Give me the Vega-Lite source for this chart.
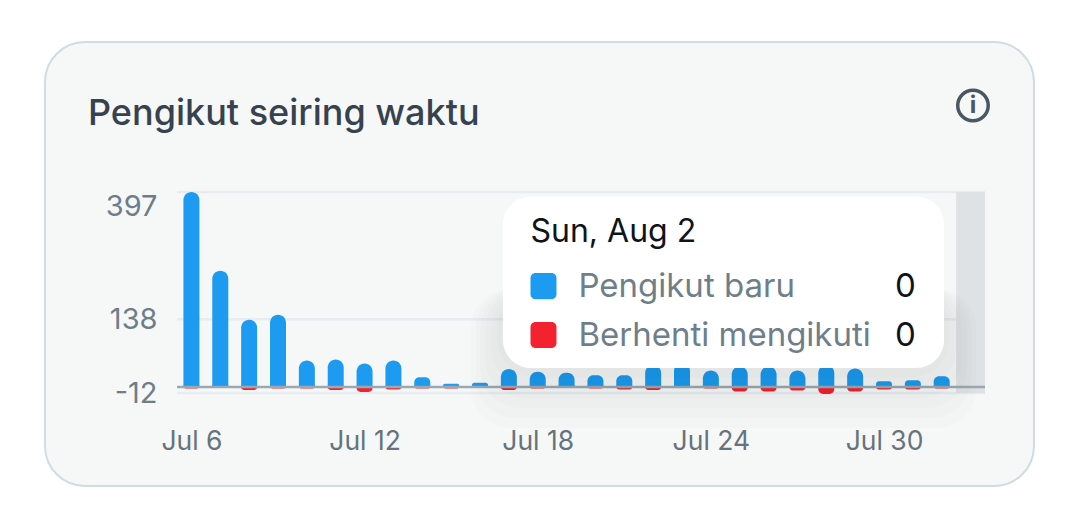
{
"$schema":"https://vega.github.io/schema/vega-lite/v6.json",
"width":989,"height":444,
"autosize":{"type":"none"},
"padding":{"left":45,"top":42,"right":46,"bottom":29},
"background":"#ffffff",
"view":{"fill":"#f6f8f8","stroke":"#cfdce3","strokeWidth":2,"cornerRadius":40},
"config":{"font":"Inter"},
"title":{"text":"Pengikut seiring waktu","anchor":"start","frame":"group","font":"Inter","fontSize":36,"fontWeight":500,"color":"#36424f","baseline":"middle","dx":43,"offset":-108,"orient":"top"},
"datasets":{
"bars":[
{"date":"2020-07-06T00:00:00","series":"Pengikut baru","value":397},{"date":"2020-07-06T00:00:00","series":"Berhenti mengikuti","value":-3},
{"date":"2020-07-07T00:00:00","series":"Pengikut baru","value":237},{"date":"2020-07-07T00:00:00","series":"Berhenti mengikuti","value":-1},
{"date":"2020-07-08T00:00:00","series":"Pengikut baru","value":137},{"date":"2020-07-08T00:00:00","series":"Berhenti mengikuti","value":-6},
{"date":"2020-07-09T00:00:00","series":"Pengikut baru","value":147},{"date":"2020-07-09T00:00:00","series":"Berhenti mengikuti","value":-3},
{"date":"2020-07-10T00:00:00","series":"Pengikut baru","value":54},{"date":"2020-07-10T00:00:00","series":"Berhenti mengikuti","value":-3},
{"date":"2020-07-11T00:00:00","series":"Pengikut baru","value":56},{"date":"2020-07-11T00:00:00","series":"Berhenti mengikuti","value":-6},
{"date":"2020-07-12T00:00:00","series":"Pengikut baru","value":48},{"date":"2020-07-12T00:00:00","series":"Berhenti mengikuti","value":-10},
{"date":"2020-07-13T00:00:00","series":"Pengikut baru","value":54},{"date":"2020-07-13T00:00:00","series":"Berhenti mengikuti","value":-5},
{"date":"2020-07-14T00:00:00","series":"Pengikut baru","value":20},{"date":"2020-07-14T00:00:00","series":"Berhenti mengikuti","value":-3},
{"date":"2020-07-15T00:00:00","series":"Pengikut baru","value":7},{"date":"2020-07-15T00:00:00","series":"Berhenti mengikuti","value":-3},
{"date":"2020-07-16T00:00:00","series":"Pengikut baru","value":9},{"date":"2020-07-16T00:00:00","series":"Berhenti mengikuti","value":-1},
{"date":"2020-07-17T00:00:00","series":"Pengikut baru","value":37},{"date":"2020-07-17T00:00:00","series":"Berhenti mengikuti","value":-6},
{"date":"2020-07-18T00:00:00","series":"Pengikut baru","value":31},{"date":"2020-07-18T00:00:00","series":"Berhenti mengikuti","value":-3},
{"date":"2020-07-19T00:00:00","series":"Pengikut baru","value":29},{"date":"2020-07-19T00:00:00","series":"Berhenti mengikuti","value":-2},
{"date":"2020-07-20T00:00:00","series":"Pengikut baru","value":24},{"date":"2020-07-20T00:00:00","series":"Berhenti mengikuti","value":-3},
{"date":"2020-07-21T00:00:00","series":"Pengikut baru","value":24},{"date":"2020-07-21T00:00:00","series":"Berhenti mengikuti","value":-5},
{"date":"2020-07-22T00:00:00","series":"Pengikut baru","value":45},{"date":"2020-07-22T00:00:00","series":"Berhenti mengikuti","value":-6},
{"date":"2020-07-23T00:00:00","series":"Pengikut baru","value":50},{"date":"2020-07-23T00:00:00","series":"Berhenti mengikuti","value":-1},
{"date":"2020-07-24T00:00:00","series":"Pengikut baru","value":34},{"date":"2020-07-24T00:00:00","series":"Berhenti mengikuti","value":-3},
{"date":"2020-07-25T00:00:00","series":"Pengikut baru","value":42},{"date":"2020-07-25T00:00:00","series":"Berhenti mengikuti","value":-9},
{"date":"2020-07-26T00:00:00","series":"Pengikut baru","value":42},{"date":"2020-07-26T00:00:00","series":"Berhenti mengikuti","value":-9},
{"date":"2020-07-27T00:00:00","series":"Pengikut baru","value":34},{"date":"2020-07-27T00:00:00","series":"Berhenti mengikuti","value":-7},
{"date":"2020-07-28T00:00:00","series":"Pengikut baru","value":45},{"date":"2020-07-28T00:00:00","series":"Berhenti mengikuti","value":-14},
{"date":"2020-07-29T00:00:00","series":"Pengikut baru","value":38},{"date":"2020-07-29T00:00:00","series":"Berhenti mengikuti","value":-9},
{"date":"2020-07-30T00:00:00","series":"Pengikut baru","value":12},{"date":"2020-07-30T00:00:00","series":"Berhenti mengikuti","value":-5},
{"date":"2020-07-31T00:00:00","series":"Pengikut baru","value":14},{"date":"2020-07-31T00:00:00","series":"Berhenti mengikuti","value":-5},
{"date":"2020-08-01T00:00:00","series":"Pengikut baru","value":22},{"date":"2020-08-01T00:00:00","series":"Berhenti mengikuti","value":-3},
{"date":"2020-08-02T00:00:00","series":"Pengikut baru","value":0},{"date":"2020-08-02T00:00:00","series":"Berhenti mengikuti","value":0}
],
"grid":[{"start":"2020-07-05T12:00:00","end":"2020-08-02T12:00:00","value":397},{"start":"2020-07-05T12:00:00","end":"2020-08-02T12:00:00","value":138},{"start":"2020-07-05T12:00:00","end":"2020-08-02T12:00:00","value":-12}],
"shadow":[
{"start":"2020-07-15T16:08:00","end":"2020-08-02T04:55:00","top":200,"bottom":-83},
{"start":"2020-07-15T20:08:00","end":"2020-08-02T00:55:00","top":200,"bottom":-62.8},
{"start":"2020-07-16T00:08:00","end":"2020-08-01T20:55:00","top":200,"bottom":-42.4},
{"start":"2020-07-16T04:08:00","end":"2020-08-01T16:55:00","top":200,"bottom":-22},
{"start":"2020-07-16T09:08:00","end":"2020-08-01T11:55:00","top":200,"bottom":-1.7},
{"start":"2020-07-16T14:08:00","end":"2020-08-01T06:55:00","top":200,"bottom":18.6}
]
},
"layer":[
{"data":{"name":"grid"},"mark":{"type":"rule","color":"#e7ecef","strokeWidth":2.5},
 "encoding":{
  "x":{"field":"start","type":"temporal","title":null,"scale":{"domain":["2020-07-05T12:00:00","2020-08-02T12:00:00"],"range":[132,940],"padding":0},
   "axis":{"values":["2020-07-06T00:00:00","2020-07-12T00:00:00","2020-07-18T00:00:00","2020-07-24T00:00:00","2020-07-30T00:00:00"],"format":"%b %-d","domain":false,"ticks":false,"grid":false,"labelFont":"Inter","labelFontSize":26.5,"labelColor":"#66737d","labelBaseline":"middle","labelPadding":0,"offset":-45,"labelOverlap":false,"labelFlush":false}},
  "x2":{"field":"end"},
  "y":{"field":"value","type":"quantitative","title":null,"scale":{"domain":[-12,397],"range":[351,150],"nice":false,"zero":false},
   "axis":{"values":[397,138,-12],"labelExpr":"'' + datum.value","domain":false,"ticks":false,"grid":false,"labelFont":"Inter","labelFontSize":29,"labelColor":"#6d7d8a","labelBaseline":{"expr":"datum.value==397?'top':'middle'"},"labelPadding":0,"offset":-112,"labelOverlap":false,"labelFlush":false}}
 }},
{"data":{"values":[{"start":"2020-08-01T12:00:00","end":"2020-08-02T12:00:00","top":397,"bottom":-12}]},"mark":{"type":"rect","color":"#dfe2e4"},
 "encoding":{"x":{"field":"start","type":"temporal"},"x2":{"field":"end"},"y":{"field":"top","type":"quantitative"},"y2":{"field":"bottom"}}},
{"data":{"name":"bars"},"transform":[{"filter":"datum.series=='Berhenti mengikuti' && datum.value<0"}],"mark":{"type":"bar","width":16,"cornerRadius":8},
 "encoding":{"x":{"field":"date","type":"temporal"},"y":{"field":"value","type":"quantitative","stack":null},"y2":{"datum":6},
  "color":{"field":"series","type":"nominal","legend":null,"scale":{"domain":["Pengikut baru","Berhenti mengikuti"],"range":["#1d9bf0","#f4212e"]}}}},
{"data":{"name":"bars"},"transform":[{"filter":"datum.series=='Pengikut baru'"}],"mark":{"type":"bar","width":16,"cornerRadiusEnd":8},
 "encoding":{"x":{"field":"date","type":"temporal"},"y":{"field":"value","type":"quantitative","stack":null},
  "color":{"field":"series","type":"nominal","legend":null}}},
{"data":{"values":[{"start":"2020-07-05T12:00:00","end":"2020-08-02T12:00:00","value":0}]},"mark":{"type":"rule","color":"#9ba8b2","strokeWidth":2.5},
 "encoding":{"x":{"field":"start","type":"temporal"},"x2":{"field":"end"},"y":{"field":"value","type":"quantitative"}}},
{"data":{"name":"shadow"},"mark":{"type":"rect","color":"#000000","opacity":0.011,"cornerRadius":40},
 "encoding":{"x":{"field":"start","type":"temporal"},"x2":{"field":"end"},"y":{"field":"top","type":"quantitative"},"y2":{"field":"bottom"}}},
{"data":{"values":[{"start":"2020-07-16T19:08:00","end":"2020-08-01T01:55:00","top":388,"bottom":39}]},"mark":{"type":"rect","color":"#ffffff","cornerRadius":28},
 "encoding":{"x":{"field":"start","type":"temporal"},"x2":{"field":"end"},"y":{"field":"top","type":"quantitative"},"y2":{"field":"bottom"}}},
{"data":{"values":[{"start":"2020-07-17T18:00:00","end":"2020-07-18T15:36:00","top":232,"bottom":179,"series":"Pengikut baru"},{"start":"2020-07-17T18:00:00","end":"2020-07-18T15:36:00","top":132.5,"bottom":79.6,"series":"Berhenti mengikuti"}]},"mark":{"type":"rect","cornerRadius":5},
 "encoding":{"x":{"field":"start","type":"temporal"},"x2":{"field":"end"},"y":{"field":"top","type":"quantitative"},"y2":{"field":"bottom"},"color":{"field":"series","type":"nominal","legend":null}}},
{"data":{"values":[{"date":"2020-07-17T18:00:00","value":314.6,"label":"Sun, Aug 2"}]},"mark":{"type":"text","align":"left","baseline":"middle","font":"Inter","fontSize":32,"color":"#0f1419"},
 "encoding":{"x":{"field":"date","type":"temporal"},"y":{"field":"value","type":"quantitative"},"text":{"field":"label"}}},
{"data":{"values":[{"date":"2020-07-19T09:50:00","value":204,"label":"Pengikut baru"},{"date":"2020-07-19T09:50:00","value":104,"label":"Berhenti mengikuti"}]},"mark":{"type":"text","align":"left","baseline":"middle","font":"Inter","fontSize":33,"color":"#6f7f8a"},
 "encoding":{"x":{"field":"date","type":"temporal"},"y":{"field":"value","type":"quantitative"},"text":{"field":"label"}}},
{"data":{"values":[{"date":"2020-07-31T02:24:00","value":204,"label":"0"},{"date":"2020-07-31T02:24:00","value":104,"label":"0"}]},"mark":{"type":"text","align":"right","baseline":"middle","font":"Inter","fontSize":33,"color":"#0f1419"},
 "encoding":{"x":{"field":"date","type":"temporal"},"y":{"field":"value","type":"quantitative"},"text":{"field":"label"}}},
{"data":{"values":[{"date":"2020-08-02T02:00:00","value":573}]},"mark":{"type":"point","shape":"circle","size":930,"filled":false,"color":"#4a5661","strokeWidth":3.5,"opacity":1},
 "encoding":{"x":{"field":"date","type":"temporal"},"y":{"field":"value","type":"quantitative"}}},
{"data":{"values":[{"date":"2020-08-02T02:00:00","value":573,"label":"i"}]},"mark":{"type":"text","align":"center","baseline":"middle","font":"Inter","fontSize":24,"fontWeight":700,"color":"#4a5661"},
 "encoding":{"x":{"field":"date","type":"temporal"},"y":{"field":"value","type":"quantitative"},"text":{"field":"label"}}}
]
}
